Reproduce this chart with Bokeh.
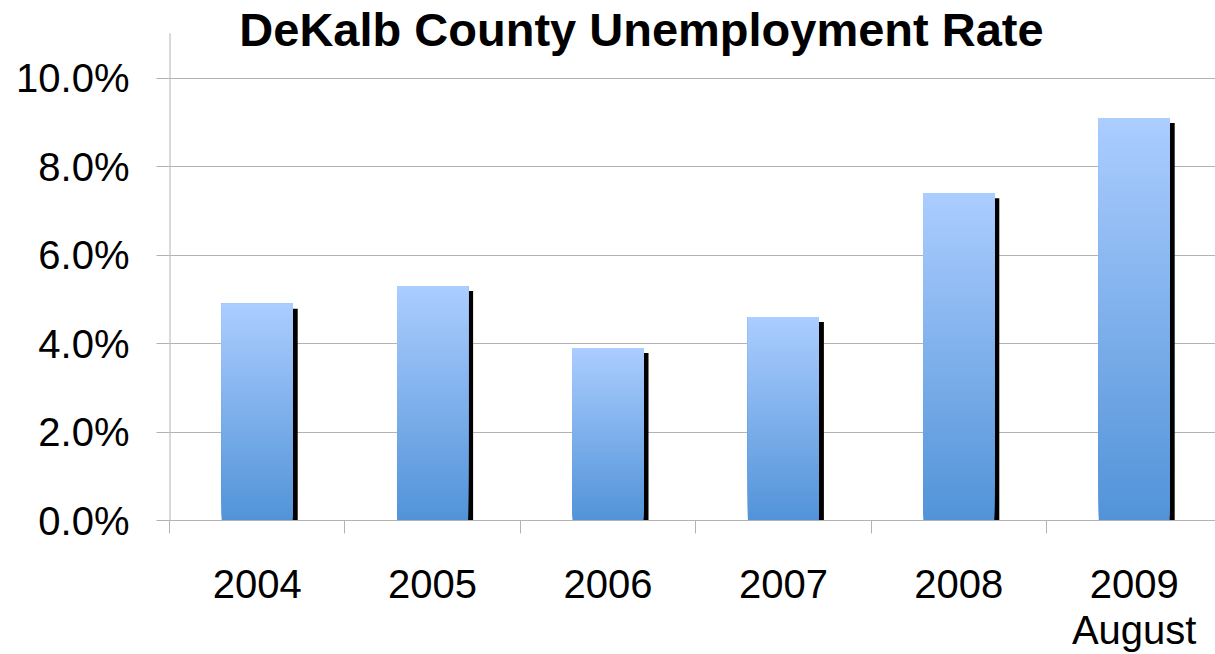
import numpy as np
from bokeh.plotting import figure
from bokeh.models import Range1d, FixedTicker, Label
from bokeh.embed import file_html
from bokeh.resources import INLINE

# ---- data ----
categories = ["2004", "2005", "2006", "2007", "2008", "2009\nAugust"]
rates = [4.9, 5.3, 3.9, 4.6, 7.4, 9.1]
y_ticks = [0, 2, 4, 6, 8, 10]
y_tick_labels = ["0.0%", "2.0%", "4.0%", "6.0%", "8.0%", "10.0%"]
title_text = "DeKalb County Unemployment Rate"

# ---- layout ----
W, H = 1215, 654
left, bottom = 169, 132
frame_w = W - left
frame_h = H - bottom            # frame from canvas top down to the x axis
cat_px = 175.4
px_y = 44.4                      # pixels per 1 %
x_max = frame_w / cat_px
y_max = frame_h / px_y
axis_top = (frame_h - 33) / px_y  # y-axis line stops a little above 10 %
FONT = "Liberation Sans"
GREY = "#b3b3b3"

p = figure(width=W, height=H, x_range=Range1d(0, x_max), y_range=Range1d(0, y_max),
           output_backend="svg", toolbar_location=None,
           min_border_left=left, min_border_right=0, min_border_top=0,
           min_border_bottom=bottom)
p.outline_line_color = None
p.background_fill_color = "white"
p.border_fill_color = "white"

centers = np.arange(len(categories)) + 0.5
bw = 71 / cat_px
dx = 5 / cat_px
dy = 5 / px_y

# shadows
p.quad(left=centers - bw / 2 + dx, right=centers + bw / 2 + dx, bottom=0,
       top=np.array(rates) - dy, fill_color="black", line_color=None)

# gradient bars (overlapping stacked slices, bottom-up, to avoid seams)
top_col = np.array([171, 205, 255])
bot_col = np.array([82, 147, 216])
N = 90
L, R, B, T, C = [], [], [], [], []
for c, v in zip(centers, rates):
    edges = np.linspace(0, v, N + 1)
    for i in range(N):
        f = (edges[i] + edges[i + 1]) / 2 / v
        col = bot_col + (top_col - bot_col) * f
        L.append(c - bw / 2); R.append(c + bw / 2)
        B.append(edges[i]); T.append(v)
        C.append("#%02x%02x%02x" % tuple(int(round(x)) for x in col))
p.quad(left=L, right=R, bottom=B, top=T, fill_color=C, line_color=None)

# y axis
p.yaxis.ticker = FixedTicker(ticks=y_ticks)
p.yaxis.major_label_overrides = {t: s for t, s in zip(y_ticks, y_tick_labels)}
p.yaxis.major_label_text_font = FONT
p.yaxis.major_label_text_font_size = "40px"
p.yaxis.major_label_text_color = "black"
p.yaxis.major_tick_out = 13
p.yaxis.major_tick_in = 0
p.yaxis.major_tick_line_color = GREY
p.yaxis.minor_tick_line_color = None
p.yaxis.axis_line_color = None
p.yaxis.major_label_standoff = 27
# visible y-axis line (stops a bit above the 10 % gridline)
p.segment(x0=[0], y0=[0], x1=[0], y1=[axis_top], line_color=GREY, line_width=2)

p.ygrid.ticker = FixedTicker(ticks=y_ticks)
p.ygrid.grid_line_color = GREY
p.xgrid.grid_line_color = None

# x axis
p.xaxis.ticker = FixedTicker(ticks=list(centers), minor_ticks=list(range(len(categories) + 1)))
p.xaxis.major_label_overrides = {float(c): s for c, s in zip(centers, categories)}
p.xaxis.major_label_text_font = FONT
p.xaxis.major_label_text_font_size = "40px"
p.xaxis.major_label_text_line_height = 1.05
p.xaxis.major_label_text_color = "black"
p.xaxis.major_tick_out = 0
p.xaxis.major_tick_in = 0
p.xaxis.minor_tick_out = 13
p.xaxis.minor_tick_in = 0
p.xaxis.minor_tick_line_color = GREY
p.xaxis.axis_line_color = GREY
p.xaxis.major_label_standoff = 28

# title
p.add_layout(Label(x=(641 - left) / cat_px, y=(frame_h - 29) / px_y, text=title_text,
                   text_font=FONT, text_font_size="47px", text_font_style="bold",
                   text_align="center", text_baseline="alphabetic", text_color="black"))

open("out.html", "w").write(file_html(p, INLINE))
